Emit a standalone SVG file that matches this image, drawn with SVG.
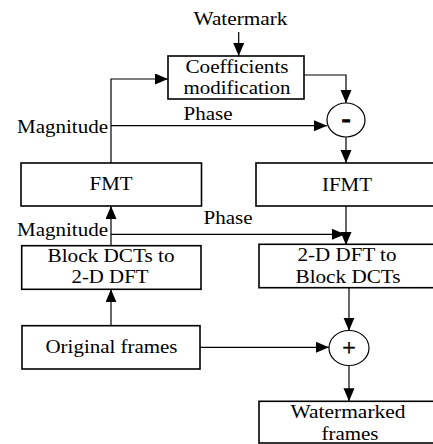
<svg xmlns="http://www.w3.org/2000/svg" width="433" height="444" viewBox="0 0 433 444">
<style>
.box{fill:#fff;stroke:#000;stroke-width:1.6}
.ln{fill:none;stroke:#000;stroke-width:1.2}
.t{font-family:"Liberation Serif","Times New Roman",serif;font-size:19px;fill:#000}
.c{text-anchor:middle}
.e{text-anchor:end}
.sym{font-family:"Liberation Serif","Times New Roman",serif;text-anchor:middle;fill:#000;stroke:#000}
</style>
<defs>
<marker id="ah" markerUnits="userSpaceOnUse" markerWidth="14" markerHeight="12" refX="13" refY="5.5" orient="auto">
<path d="M0,0 L13,5.5 L0,11 z" fill="#000"/>
</marker>
</defs>
<rect width="433" height="444" fill="#fff"/>
<g id="connectors">
<path class="ln" d="M238.7,32 V56" marker-end="url(#ah)"/>
<path class="ln" d="M111,163 V79 H168" marker-end="url(#ah)"/>
<path class="ln" d="M111,125.7 H327" marker-end="url(#ah)"/>
<path class="ln" d="M304,75 H346 V103" marker-end="url(#ah)"/>
<path class="ln" d="M346,137 V163" marker-end="url(#ah)"/>
<path class="ln" d="M346,206 V245" marker-end="url(#ah)"/>
<path class="ln" d="M111,245.7 V206" marker-end="url(#ah)"/>
<path class="ln" d="M111,234.3 H345" marker-end="url(#ah)"/>
<path class="ln" d="M111,325.7 V289.3" marker-end="url(#ah)"/>
<path class="ln" d="M200,347.3 H329" marker-end="url(#ah)"/>
<path class="ln" d="M349,287.7 V330.7" marker-end="url(#ah)"/>
<path class="ln" d="M349,365.7 V401.3" marker-end="url(#ah)"/>
</g>
<g id="labels">
<text class="t c" x="240.5" y="25" textLength="94" lengthAdjust="spacingAndGlyphs">Watermark</text>
<text class="t c" x="208" y="119.5" textLength="49" lengthAdjust="spacingAndGlyphs">Phase</text>
<text class="t e" x="108" y="133" textLength="91" lengthAdjust="spacingAndGlyphs">Magnitude</text>
<text class="t c" x="228" y="224" textLength="49" lengthAdjust="spacingAndGlyphs">Phase</text>
<text class="t e" x="108" y="236" textLength="91" lengthAdjust="spacingAndGlyphs">Magnitude</text>
</g>
<g id="coeff">
<rect class="box" x="168" y="56" width="136" height="43"/>
<text class="t c" x="237" y="72.5" textLength="103" lengthAdjust="spacingAndGlyphs">Coefficients</text>
<text class="t c" x="237" y="94" textLength="107" lengthAdjust="spacingAndGlyphs">modification</text>
</g>
<g id="minus">
<ellipse class="ln" cx="346" cy="120" rx="19" ry="17" fill="#fff"/>
<text class="sym" x="346" y="127" style="font-size:26px;font-weight:bold;stroke-width:1.2">-</text>
</g>
<g id="fmt">
<rect class="box" x="21" y="163" width="180.5" height="43"/>
<text class="t c" x="111" y="190" textLength="43" lengthAdjust="spacingAndGlyphs">FMT</text>
</g>
<g id="ifmt">
<rect class="box" x="256" y="163" width="190" height="43"/>
<text class="t c" x="347" y="191" textLength="50" lengthAdjust="spacingAndGlyphs">IFMT</text>
</g>
<g id="dct2dft">
<rect class="box" x="21.7" y="245.7" width="179.3" height="43.6"/>
<text class="t c" x="111" y="261.7" textLength="127" lengthAdjust="spacingAndGlyphs">Block DCTs to</text>
<text class="t c" x="110" y="283" textLength="77" lengthAdjust="spacingAndGlyphs">2-D DFT</text>
</g>
<g id="dft2dct">
<rect class="box" x="259" y="244.3" width="190" height="43.4"/>
<text class="t c" x="347" y="260.7" textLength="99" lengthAdjust="spacingAndGlyphs">2-D DFT to</text>
<text class="t c" x="348" y="283" textLength="105" lengthAdjust="spacingAndGlyphs">Block DCTs</text>
</g>
<g id="original">
<rect class="box" x="22" y="325.7" width="178" height="43.3"/>
<text class="t c" x="111.5" y="353" textLength="132" lengthAdjust="spacingAndGlyphs">Original frames</text>
</g>
<g id="plus">
<ellipse class="ln" cx="349" cy="348" rx="20" ry="17.5" fill="#fff"/>
<text class="sym" x="349" y="354.5" style="font-size:24px;stroke-width:0.5">+</text>
</g>
<g id="watermarked">
<rect class="box" x="259" y="401.3" width="190" height="41.7"/>
<text class="t c" x="348" y="418" textLength="115" lengthAdjust="spacingAndGlyphs">Watermarked</text>
<text class="t c" x="350" y="440" textLength="57" lengthAdjust="spacingAndGlyphs">frames</text>
</g>
</svg>
